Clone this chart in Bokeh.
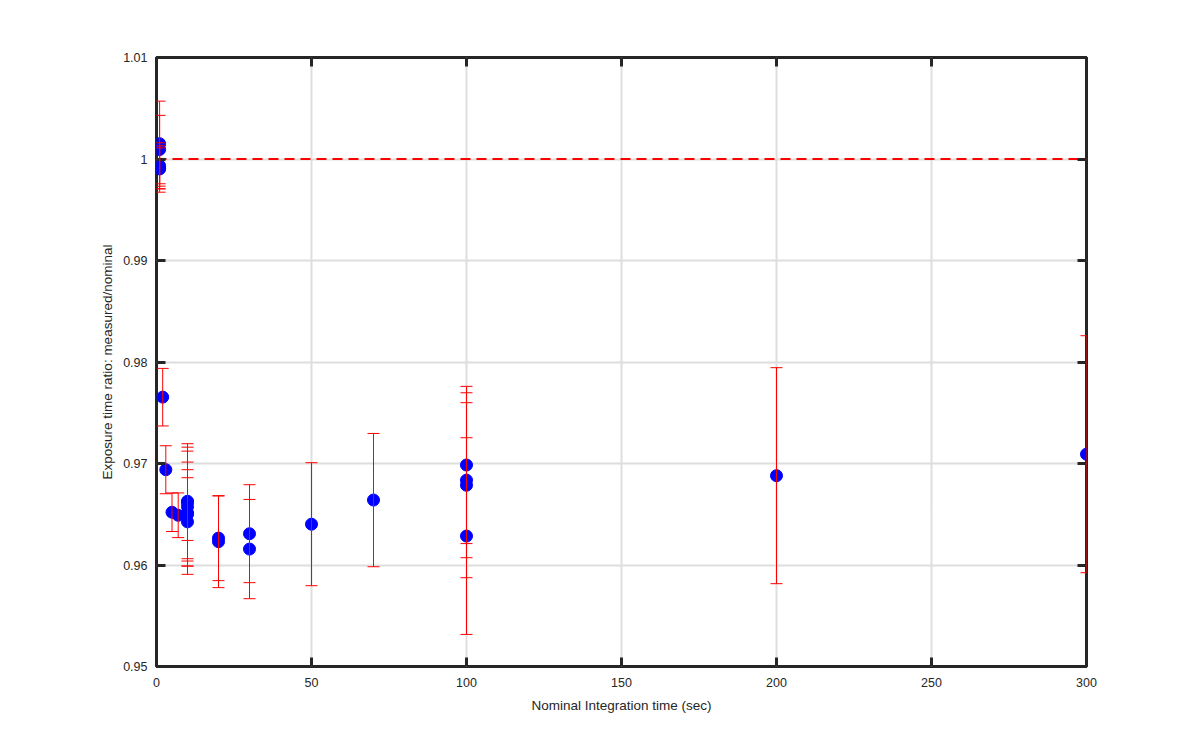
from bokeh.plotting import figure
from bokeh.models import (Range1d, LinearAxis, FixedTicker, CustomJSTickFormatter,
                          Whisker, TeeHead, ColumnDataSource, Span)
from bokeh.embed import file_html
from bokeh.resources import INLINE

# ---- data ----
nominal_time = [1, 1, 1, 1, 1,
                2, 3, 5, 7,
                10, 10, 10, 10, 10, 10,
                20, 20, 30, 30, 50, 70,
                100, 100, 100, 100,
                200, 300]
ratio = [1.00151, 1.00093, 0.99933, 0.99902, 0.99908,
         0.97654, 0.96939, 0.96520, 0.96490,
         0.96628, 0.96617, 0.96575, 0.96515, 0.96500, 0.96425,
         0.96265, 0.96230, 0.96308, 0.96157, 0.96402, 0.96640,
         0.96985, 0.96836, 0.96786, 0.96285,
         0.96880, 0.97092]
err_upper = [1.00570, 1.00430, 1.00160, 1.00130, 1.00110,
             0.97937, 0.97175, 0.96710, 0.96710,
             0.97014, 0.97195, 0.97161, 0.97122, 0.96939, 0.96860,
             0.96683, 0.96680, 0.96791, 0.96646, 0.97008, 0.97296,
             0.97760, 0.97599, 0.97697, 0.97254,
             0.97944, 0.98259]
err_lower = [0.99732, 0.99756, 0.99706, 0.99673, 0.99706,
             0.97370, 0.96702, 0.96330, 0.96270,
             0.96242, 0.96039, 0.95989, 0.95908, 0.96062, 0.95990,
             0.95846, 0.95777, 0.95826, 0.95668, 0.95796, 0.95983,
             0.96211, 0.96072, 0.95875, 0.95316,
             0.95816, 0.95924]
x_ticks = [0, 50, 100, 150, 200, 250, 300]
y_ticks = [0.95, 0.96, 0.97, 0.98, 0.99, 1.00, 1.01]
reference_ratio = 1.0

src = ColumnDataSource(dict(x=nominal_time, y=ratio, lo=err_lower, hi=err_upper))

AX = "#262626"
FONT = "Liberation Sans"

p = figure(width=1184, height=734, output_backend="svg", toolbar_location=None,
           x_range=Range1d(0, 300), y_range=Range1d(0.95, 1.01),
           x_axis_location=None, y_axis_location=None,
           min_border_left=156, min_border_right=98, min_border_top=57, min_border_bottom=68)
p.background_fill_color = "white"
p.border_fill_color = "white"
p.outline_line_color = AX
p.outline_line_width = 3

fmt_y = CustomJSTickFormatter(code="return String(Number(tick.toFixed(2)));")
blank = CustomJSTickFormatter(code="return '';")

def style_axis(ax):
    ax.axis_line_color = None
    ax.major_tick_in = 9
    ax.major_tick_out = 0
    ax.minor_tick_line_color = None
    ax.major_tick_line_color = AX
    ax.major_tick_line_width = 3
    ax.major_label_text_font = FONT
    ax.major_label_text_font_size = "12.5px"
    ax.major_label_text_color = AX
    ax.axis_label_text_font = FONT
    ax.axis_label_text_font_size = "13.5px"
    ax.axis_label_text_font_style = "normal"
    ax.axis_label_text_color = AX

xb = LinearAxis(ticker=FixedTicker(ticks=x_ticks), axis_label="Nominal Integration time (sec)")
style_axis(xb)
xb.major_label_standoff = 11
xb.axis_label_standoff = 8
p.add_layout(xb, "below")

yl = LinearAxis(ticker=FixedTicker(ticks=y_ticks), formatter=fmt_y,
                axis_label="Exposure time ratio: measured/nominal")
style_axis(yl)
yl.major_label_standoff = 9
yl.axis_label_standoff = 5
p.add_layout(yl, "left")

xt = LinearAxis(ticker=FixedTicker(ticks=x_ticks), formatter=blank)
style_axis(xt)
xt.major_label_text_font_size = "1px"
p.add_layout(xt, "above")

yr = LinearAxis(ticker=FixedTicker(ticks=y_ticks), formatter=blank)
style_axis(yr)
yr.major_label_text_font_size = "1px"
p.add_layout(yr, "right")

p.xgrid.ticker = FixedTicker(ticks=x_ticks)
p.ygrid.ticker = FixedTicker(ticks=y_ticks)
for g in (p.xgrid, p.ygrid):
    g.grid_line_color = "#dedede"
    g.grid_line_width = 2

p.add_layout(Span(location=reference_ratio, dimension="width", line_color="#ff0000",
                  line_width=2, line_dash="10 6", level="underlay"))

p.scatter("x", "y", source=src, size=12, marker="circle",
          fill_color="#0000ff", line_color="#0000ff", line_width=1)

p.add_layout(Whisker(source=src, base="x", lower="lo", upper="hi", dimension="height",
                     line_color="#ff0000", line_width=1, level="annotation",
                     lower_head=TeeHead(size=12, line_color="#ff0000", line_width=1),
                     upper_head=TeeHead(size=12, line_color="#ff0000", line_width=1)))

open("out.html", "w").write(file_html(p, INLINE))
